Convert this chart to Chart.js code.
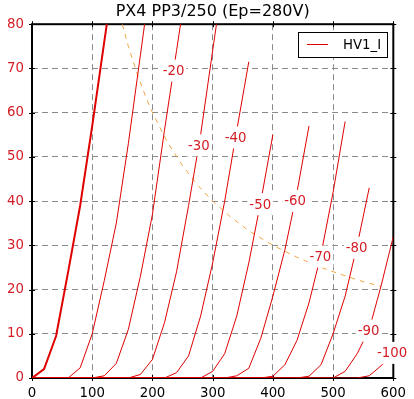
<!DOCTYPE html>
<html>
<head>
<meta charset="utf-8">
<script src="https://cdn.jsdelivr.net/npm/chart.js@4.4.1/dist/chart.umd.min.js"></script>
<style>
  body { margin: 0; background: #fff; }
  canvas { display: block; }
</style>
</head>
<body>
<canvas id="myChart" width="414" height="399"></canvas>
<script>
// plate volts (V), one sample every 20 V
const ep = [0, 20, 40, 60, 80, 100, 120, 140, 160, 180, 200, 220, 240, 260, 280, 300,
            320, 340, 360, 380, 400, 420, 440, 460, 480, 500, 520, 540, 560, 580, 600];

// plate current (mA) for each grid voltage
const ia0   = [0, 2, 9.5, 24, 39, 57, 76, 95];
const ia10  = [0, 0, 0, 0, 2.3, 10, 22, 35, 53, 73, 93];
const ia20  = [0, 0, 0, 0, 0, 0, 0.5, 3.3, 11, 23, 37, 56, 74, 92];
const ia30  = [0, 0, 0, 0, 0, 0, 0, 0, 0, 0.8, 4.2, 12.5, 24, 39, 55, 74, 93];
const ia40  = [0, 0, 0, 0, 0, 0, 0, 0, 0, 0, 0, 0, 1.2, 5, 14, 26, 40, 56, 71.5];
const ia50  = [0, 0, 0, 0, 0, 0, 0, 0, 0, 0, 0, 0, 0, 0, 0, 1.5, 5.5, 14, 26, 40, 55];
const ia60  = [0, 0, 0, 0, 0, 0, 0, 0, 0, 0, 0, 0, 0, 0, 0, 0, 0, 0.5, 2.2, 9, 18.5, 29, 42, 57];
const ia70  = [0, 0, 0, 0, 0, 0, 0, 0, 0, 0, 0, 0, 0, 0, 0, 0, 0, 0, 0, 0, 0.4, 3, 8.5, 17, 28, 42, 58];
const ia80  = [0, 0, 0, 0, 0, 0, 0, 0, 0, 0, 0, 0, 0, 0, 0, 0, 0, 0, 0, 0, 0, 0, 0, 0.4, 3, 10, 18.5, 30, 43];
const ia90  = [0, 0, 0, 0, 0, 0, 0, 0, 0, 0, 0, 0, 0, 0, 0, 0, 0, 0, 0, 0, 0, 0, 0, 0, 0, 0, 1.5, 5.5, 11, 21, 32];
const ia100 = [0, 0, 0, 0, 0, 0, 0, 0, 0, 0, 0, 0, 0, 0, 0, 0, 0, 0, 0, 0, 0, 0, 0, 0, 0, 0, 0, 0, 0.5, 2.8, 6];

const gridVolts = ['0', '-10', '-20', '-30', '-40', '-50', '-60', '-70', '-80', '-90', '-100'];
const curves = [ia0, ia10, ia20, ia30, ia40, ia50, ia60, ia70, ia80, ia90, ia100];
// plate volts where the inline grid label sits (null = no label)
const labelAt = [null, null, 235, 277, 338, 379, 437, 479, 539, 559, 598];

// max dissipation line (12 W)
const pdEp = [150, 160, 175, 190, 200, 225, 250, 275, 300, 330, 360, 400, 440, 480, 520, 550, 580];
const pdIa = [80, 75, 68.6, 63.2, 60, 53.3, 48, 43.6, 40, 36.4, 33.3, 30, 27.3, 25, 23.1, 21.8, 20.7];

const font = 'DejaVu Sans';
const red = '#e00000';
const labelRed = '#d41c24';

function toPoints(xs, ys) {
    let pts = [];
    for (let i = 0; i < ys.length; i++) {
        if (ys[i] !== null) pts.push({x: xs[i], y: ys[i]});
    }
    return pts;
}

let datasets = [];
for (let i = 0; i < curves.length; i++) {
    datasets.push({
        label: i === 0 ? 'HV1_I' : 'Eg ' + gridVolts[i],
        data: toPoints(ep, curves[i]),
        borderColor: red,
        borderWidth: i === 0 ? 2 : 1,
        pointRadius: 0,
        tension: 0
    });
}
datasets.push({
    label: 'Pa max',
    data: toPoints(pdEp, pdIa),
    borderColor: '#efa646',
    borderWidth: 1,
    borderDash: [5, 5],
    pointRadius: 0,
    tension: 0
});

// frame and in/out ticks like the original plot
const framePlugin = {
    id: 'frame',
    beforeDatasetsDraw(chart) {
        const ctx = chart.ctx, a = chart.chartArea;
        const xs = chart.scales.x, ys = chart.scales.y;
        ctx.save();
        ctx.strokeStyle = '#000';
        ctx.lineWidth = 1;
        ctx.beginPath();
        xs.ticks.forEach(t => {
            const px = Math.round(xs.getPixelForValue(t.value)) + 0.5;
            ctx.moveTo(px, a.bottom - 3); ctx.lineTo(px, a.bottom + 3);
            ctx.moveTo(px, a.top - 3); ctx.lineTo(px, a.top + 3);
        });
        ys.ticks.forEach(t => {
            const py = Math.round(ys.getPixelForValue(t.value)) + 0.5;
            ctx.moveTo(a.left - 3, py); ctx.lineTo(a.left + 3, py);
            ctx.moveTo(a.right - 3, py); ctx.lineTo(a.right + 3, py);
        });
        ctx.stroke();
        ctx.lineWidth = 2;
        ctx.strokeRect(a.left, a.top, a.right - a.left, a.bottom - a.top);
        ctx.restore();
    },
    afterDatasetsDraw(chart) {
        const ctx = chart.ctx;
        const xs = chart.scales.x, ys = chart.scales.y;
        ctx.save();
        ctx.font = '13.3px "' + font + '"';
        ctx.textAlign = 'center';
        ctx.textBaseline = 'middle';
        for (let i = 0; i < curves.length; i++) {
            if (labelAt[i] === null) continue;
            const pts = chart.data.datasets[i].data;
            let y = null;
            for (let j = 1; j < pts.length; j++) {
                if (pts[j].x >= labelAt[i]) {
                    const f = (labelAt[i] - pts[j - 1].x) / (pts[j].x - pts[j - 1].x);
                    y = pts[j - 1].y + f * (pts[j].y - pts[j - 1].y);
                    break;
                }
            }
            if (y === null) y = pts[pts.length - 1].y;
            const px = xs.getPixelForValue(labelAt[i]);
            const py = ys.getPixelForValue(y);
            const w = ctx.measureText(gridVolts[i]).width + 4;
            ctx.fillStyle = '#fff';
            ctx.fillRect(px - w / 2, py - 11, w, 22);
            ctx.fillStyle = labelRed;
            ctx.fillText(gridVolts[i], px, py + 1);
        }
        // legend box
        ctx.fillStyle = '#fff';
        ctx.fillRect(298.5, 32.5, 89, 25);
        ctx.strokeStyle = '#000';
        ctx.lineWidth = 1;
        ctx.strokeRect(298.5, 32.5, 89, 25);
        ctx.strokeStyle = red;
        ctx.beginPath();
        ctx.moveTo(307, 44.5); ctx.lineTo(328, 44.5);
        ctx.stroke();
        ctx.fillStyle = '#000';
        ctx.textAlign = 'left';
        ctx.fillText(chart.data.datasets[0].label, 343, 45.5);
        ctx.restore();
    }
};

const config = {
    type: 'line',
    data: {datasets: datasets},
    options: {
        responsive: false,
        animation: false,
        devicePixelRatio: 1,
        layout: {padding: {right: 20}},
        plugins: {
            legend: {display: false},
            tooltip: {enabled: false},
            title: {
                display: true,
                fullSize: false,
                text: 'PX4 PP3/250 (Ep=280V)',
                color: '#000',
                font: {family: font, size: 16, weight: 'normal', lineHeight: 1.2},
                padding: {top: 2, bottom: 3}
            }
        },
        scales: {
            x: {
                type: 'linear',
                min: 0, max: 600,
                afterFit: s => { s.height = 21; },
                ticks: {stepSize: 100, color: '#000', padding: 8, maxRotation: 0,
                        font: {family: font, size: 13.3}},
                grid: {color: ctx => (ctx.tick && (ctx.tick.value === 0 || ctx.tick.value === 600)) ? 'rgba(0,0,0,0)' : '#8a8a8a',
                       drawTicks: false, lineWidth: 1},
                border: {display: false, dash: [6, 4]}
            },
            y: {
                min: 0, max: 80,
                afterFit: s => { s.width = 32; },
                ticks: {stepSize: 10, color: labelRed, padding: 8,
                        font: {family: font, size: 13.3}},
                grid: {color: ctx => (ctx.tick && (ctx.tick.value === 0 || ctx.tick.value === 80)) ? 'rgba(0,0,0,0)' : '#8a8a8a',
                       drawTicks: false, lineWidth: 1},
                border: {display: false, dash: [6, 4]}
            }
        }
    },
    plugins: [framePlugin]
};

let myChart = new Chart(document.getElementById('myChart'), config);
</script>
</body>
</html>
